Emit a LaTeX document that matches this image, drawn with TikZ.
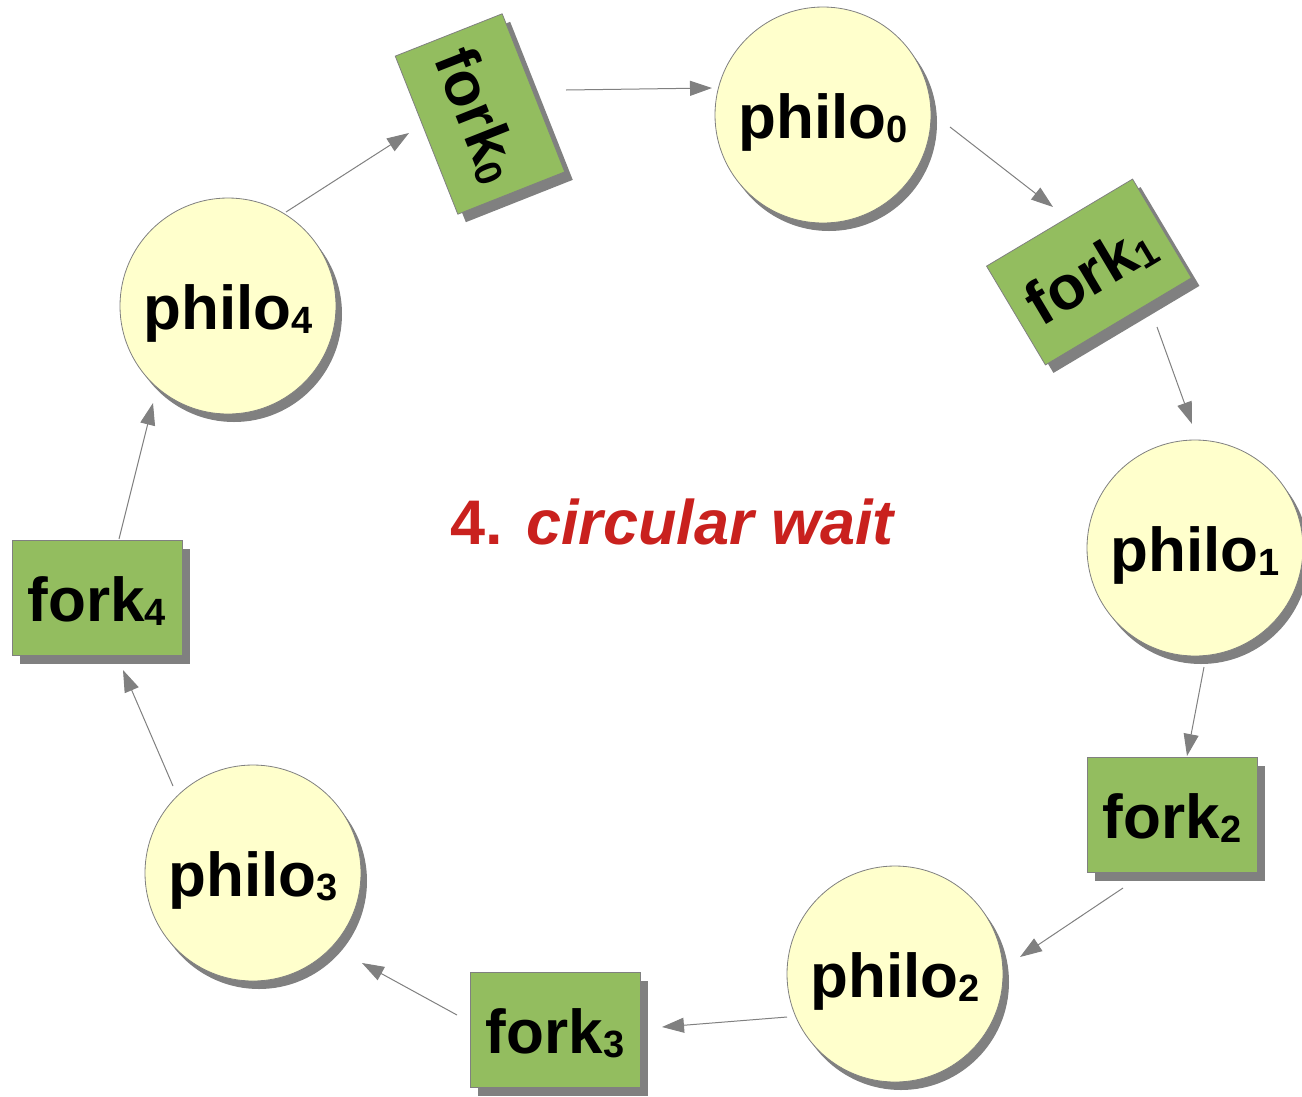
\documentclass[tikz,border=0pt]{standalone}
\usepackage{fontspec}
\setmainfont{Liberation Sans}
\usetikzlibrary{arrows.meta,calc}
\definecolor{philofill}{HTML}{FFFFCC}
\definecolor{forkfill}{HTML}{93BD5F}
\definecolor{shadowgray}{HTML}{808080}
\definecolor{linegray}{HTML}{808080}
\definecolor{titlered}{HTML}{C9211E}
\newcommand{\subnum}[1]{\raisebox{-4pt}{\fontsize{38}{38}\selectfont #1}}
\tikzset{
  bigtext/.style={font=\fontsize{62}{70}\selectfont\bfseries},
  philo/.style={circle, minimum size=216pt, inner sep=0pt, fill=philofill, draw=linegray, line width=0.8pt, bigtext, text height=59pt, text depth=13pt},
  philoshadow/.style={circle, minimum size=216pt, inner sep=0pt, fill=shadowgray},
  fork/.style={rectangle, minimum width=170pt, minimum height=115pt, inner sep=0pt, fill=forkfill, draw=linegray, line width=0.8pt, bigtext, text height=49pt, text depth=3pt},
  forkshadow/.style={rectangle, minimum width=170pt, minimum height=115pt, inner sep=0pt, fill=shadowgray},
  arr/.style={draw=linegray, line width=1pt, -{Triangle[length=22pt,width=15pt]}, linegray}
}
\begin{document}
\begin{tikzpicture}[x=1pt,y=-1pt]
\useasboundingbox (0,0) rectangle (1302,1096);
% shadows
\node[philoshadow] (p0s) at (829,123) {};
\node[philoshadow] (p1s) at (1201,556) {};
\node[philoshadow] (p2s) at (901,982) {};
\node[philoshadow] (p3s) at (259,881) {};
\node[philoshadow] (p4s) at (234,314) {};
\node[forkshadow, rotate=-68.4] (f0s) at (488,122) {};
\node[forkshadow, rotate=30.8] (f1s) at (1097,280) {};
\node[forkshadow] (f2s) at (1180,823) {};
\node[forkshadow] (f3s) at (563,1038) {};
\node[forkshadow] (f4s) at (105,606) {};
% nodes
\node[philo] (philo0) at (823,115) {philo\subnum{0}};
\node[philo] (philo1) at (1195,548) {philo\subnum{1}};
\node[philo] (philo2) at (895,974) {philo\subnum{2}};
\node[philo] (philo3) at (253,873) {philo\subnum{3}};
\node[philo] (philo4) at (228,306) {philo\subnum{4}};
\node[fork, rotate=-68.4] (fork0) at (480,114) {fork\subnum{0}};
\node[fork, rotate=30.8] (fork1) at (1089,272) {fork\subnum{1}};
\node[fork] (fork2) at (1172,815) {fork\subnum{2}};
\node[fork] (fork3) at (555,1030) {fork\subnum{3}};
\node[fork] (fork4) at (97,598) {fork\subnum{4}};
% title
\node[font=\fontsize{63}{70}\selectfont\bfseries, text=titlered] (title) at (673,522) {4. \textit{circular wait}};
% arrows
\draw[arr] ($(fork0)+(86,-24)$) -- ($(philo0)+(-111,-27)$);
\draw[arr] ($(philo0)+(127,12)$) -- ($(fork1)+(-36,-65)$);
\draw[arr] ($(fork1)+(68,55)$) -- ($(philo1)+(-3,-124)$);
\draw[arr] ($(philo1)+(9,119)$) -- ($(fork2)+(15,-59)$);
\draw[arr] ($(fork2)+(-49,73)$) -- ($(philo2)+(125,-17)$);
\draw[arr] ($(philo2)+(-108,43)$) -- ($(fork3)+(107,-3)$);
\draw[arr] ($(fork3)+(-98,-15)$) -- ($(philo3)+(109,90)$);
\draw[arr] ($(philo3)+(-80,-87)$) -- ($(fork4)+(26,72)$);
\draw[arr] ($(fork4)+(22,-59)$) -- ($(philo4)+(-75,97)$);
\draw[arr] ($(philo4)+(58,-94)$) -- ($(fork0)+(-71,19)$);
\end{tikzpicture}
\end{document}
